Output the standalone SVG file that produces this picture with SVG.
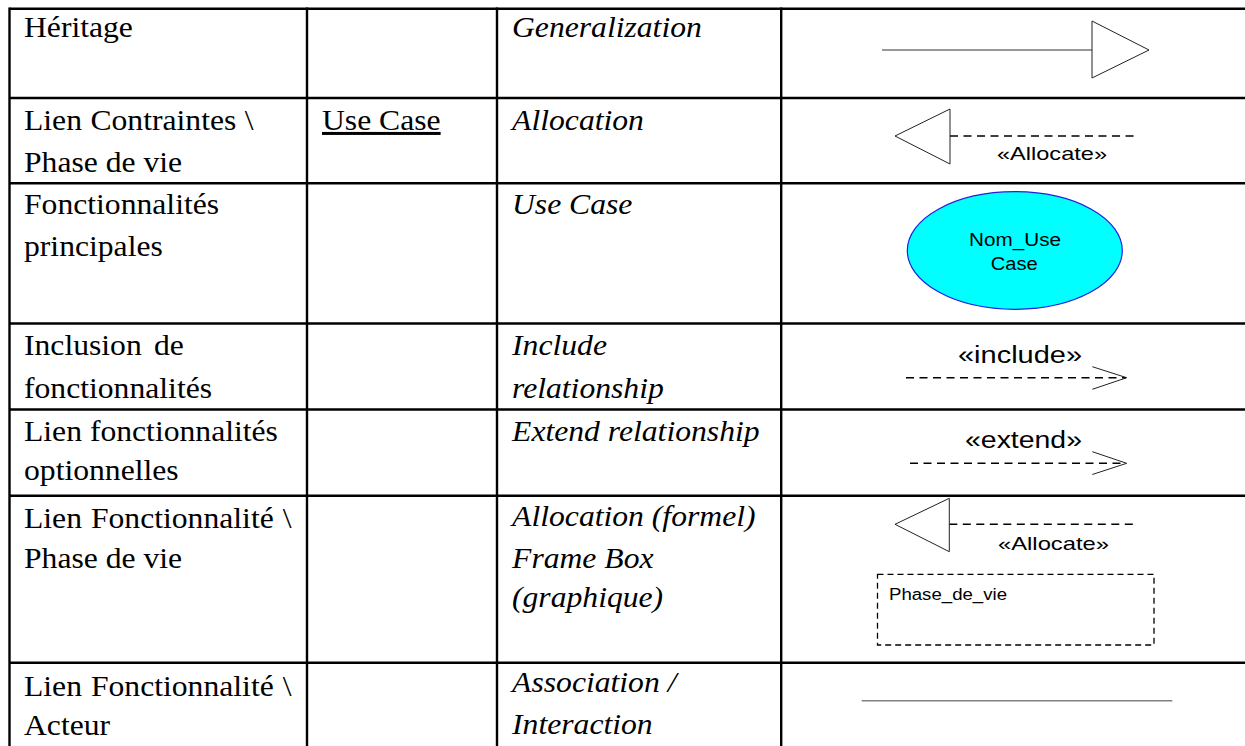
<svg xmlns="http://www.w3.org/2000/svg" width="1245" height="746" viewBox="0 0 1245 746">
  <style>
    .grid { stroke: #000; stroke-width: 2.4; fill: none; }
    .t, .ti { font-family: "Liberation Serif", "Times New Roman", serif; font-size: 30px; fill: #000;
              transform-box: fill-box; transform-origin: 0 0; transform: scaleX(1.055); }
    .ti { font-style: italic; }
    .s { font-family: "Liberation Sans", Arial, sans-serif; fill: #000; }
    .solid { stroke: #333; stroke-width: 1.2; fill: none; }
    .tri { stroke: #222; stroke-width: 1; fill: #fff; }
    .dash { stroke: #000; stroke-width: 1.4; fill: none; stroke-dasharray: 8 5.5; }
    .open { stroke: #222; stroke-width: 1; fill: none; }
  </style>
  <rect width="1245" height="746" fill="#fff"/>

  <g id="grid" class="grid">
    <line x1="9.5" y1="8.7" x2="1245" y2="8.7"/>
    <line x1="9.5" y1="98" x2="1245" y2="98"/>
    <line x1="9.5" y1="183.3" x2="1245" y2="183.3"/>
    <line x1="9.5" y1="323.5" x2="1245" y2="323.5"/>
    <line x1="9.5" y1="409.5" x2="1245" y2="409.5"/>
    <line x1="9.5" y1="495.7" x2="1245" y2="495.7"/>
    <line x1="9.5" y1="662.8" x2="1245" y2="662.8"/>
    <line x1="9.5" y1="7.5" x2="9.5" y2="746"/>
    <line x1="307" y1="7.5" x2="307" y2="746"/>
    <line x1="497" y1="7.5" x2="497" y2="746"/>
    <line x1="781.2" y1="7.5" x2="781.2" y2="746"/>
  </g>

  <g id="row-heritage">
    <text class="t" x="24" y="37">Héritage</text>
    <text class="ti" x="512" y="37">Generalization</text>
  </g>

  <g id="row-lien-contraintes">
    <text class="t" x="24" y="130" word-spacing="0.5">Lien Contraintes \</text>
    <text class="t" x="24" y="172">Phase de vie</text>
    <text class="t" x="322" y="130" text-decoration="underline">Use Case</text>
    <text class="ti" x="512" y="130">Allocation</text>
    <text class="s" x="997" y="160" font-size="19" textLength="110" lengthAdjust="spacingAndGlyphs">«Allocate»</text>
  </g>

  <g id="row-fonctionnalites">
    <text class="t" x="24" y="214">Fonctionnalités</text>
    <text class="t" x="24" y="256">principales</text>
    <text class="ti" x="512" y="214">Use Case</text>
  </g>

  <g id="node-usecase">
    <ellipse cx="1014.8" cy="250.5" rx="107.5" ry="58.8" fill="#00ffff" stroke="#2020e0" stroke-width="1.2"/>
    <text class="s" x="1015" y="246" font-size="18" text-anchor="middle" textLength="92" lengthAdjust="spacingAndGlyphs">Nom_Use</text>
    <text class="s" x="1014.3" y="270" font-size="18" text-anchor="middle" textLength="47" lengthAdjust="spacingAndGlyphs">Case</text>
  </g>

  <g id="row-inclusion">
    <text class="t" x="24" y="355" word-spacing="4">Inclusion de</text>
    <text class="t" x="24" y="398">fonctionnalités</text>
    <text class="ti" x="512" y="355">Include</text>
    <text class="ti" x="512" y="398">relationship</text>
    <text class="s" x="958" y="363" font-size="23" textLength="124" lengthAdjust="spacingAndGlyphs">«include»</text>
  </g>

  <g id="row-extend">
    <text class="t" x="24" y="441">Lien fonctionnalités</text>
    <text class="t" x="24" y="480">optionnelles</text>
    <text class="ti" x="512" y="441">Extend relationship</text>
    <text class="s" x="965" y="448" font-size="23" textLength="117" lengthAdjust="spacingAndGlyphs">«extend»</text>
  </g>

  <g id="row-lien-phase">
    <text class="t" x="24" y="528" word-spacing="1">Lien Fonctionnalité \</text>
    <text class="t" x="24" y="568">Phase de vie</text>
    <text class="ti" x="512" y="526">Allocation (formel)</text>
    <text class="ti" x="512" y="568">Frame Box</text>
    <text class="ti" x="512" y="607">(graphique)</text>
    <text class="s" x="998" y="550" font-size="19" textLength="111" lengthAdjust="spacingAndGlyphs">«Allocate»</text>
  </g>

  <g id="node-frame">
    <rect x="877.5" y="574.3" width="276.5" height="70.7" fill="none" stroke="#000" stroke-width="1.3" stroke-dasharray="6 4"/>
    <text class="s" x="889" y="600" font-size="16" textLength="118" lengthAdjust="spacingAndGlyphs">Phase_de_vie</text>
  </g>

  <g id="row-lien-acteur">
    <text class="t" x="24" y="696" word-spacing="1">Lien Fonctionnalité \</text>
    <text class="t" x="24" y="735">Acteur</text>
    <text class="ti" x="512" y="692">Association /</text>
    <text class="ti" x="512" y="734">Interaction</text>
  </g>

  <g id="connectors">
    <line class="solid" x1="882" y1="50" x2="1092" y2="50"/>
    <polygon class="tri" points="1092,21 1092,78 1149,50"/>
    <line class="dash" x1="950" y1="136" x2="1136" y2="136"/>
    <polygon class="tri" points="950,109 950,164 895,136"/>
    <line class="dash" x1="906" y1="377.7" x2="1126" y2="377.7" stroke-dasharray="7 5.5"/>
    <polyline class="open" points="1092.3,366.7 1126.7,377.7 1092.3,389.3"/>
    <line class="dash" x1="910" y1="463.3" x2="1126" y2="463.3" stroke-dasharray="7 5.5"/>
    <polyline class="open" points="1092.3,451.7 1126.7,463.3 1092.3,474.5"/>
    <line class="dash" x1="949.3" y1="524.3" x2="1136.7" y2="524.3"/>
    <polygon class="tri" points="949.3,498.3 949.3,551.7 895,524.3"/>
    <line x1="861.7" y1="700.7" x2="1172.3" y2="700.7" stroke="#808080" stroke-width="1.6"/>
  </g>
</svg>
